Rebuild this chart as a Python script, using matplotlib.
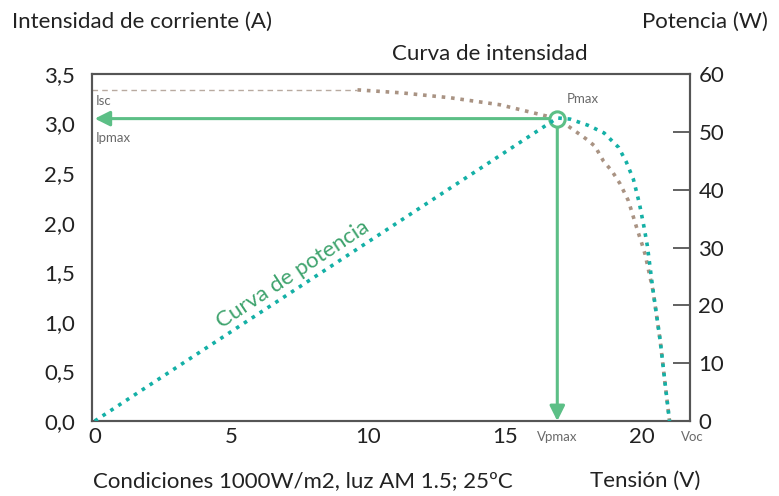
import matplotlib
matplotlib.use('Agg')
import matplotlib.pyplot as plt

# ── Data ──────────────────────────────────────────────────────────────────────
# current curve (V, A)
v_curr = [9.6, 11.2, 13.0, 14.8, 16.0, 16.9, 17.37, 17.98, 18.28, 18.59,
          18.9, 19.2, 19.5, 19.8, 20.0, 20.11, 20.4, 20.66, 20.84, 21.0]
i_curr = [3.34, 3.31, 3.26, 3.19, 3.11, 3.05, 2.96, 2.84, 2.77, 2.62,
          2.52, 2.39, 2.22, 1.95, 1.78, 1.68, 1.31, 0.81, 0.37, 0.0]

# power curve (V, W)
v_pow = [0.0, 16.9, 17.37, 18.04, 18.61, 19.14, 19.42, 19.68, 19.9, 20.07,
         20.19, 20.4, 20.66, 20.84, 21.0]
p_pow = [0.0, 52.4, 52.2, 51.1, 49.8, 47.3, 44.8, 41.8, 37.6, 33.5,
         30.3, 22.5, 13.9, 6.4, 0.0]

isc = 3.34
v_pmax = 16.9
i_pmax = 3.05
v_oc = 21.0

i_ticks = [0.0, 0.5, 1.0, 1.5, 2.0, 2.5, 3.0, 3.5]
p_ticks = [0, 10, 20, 30, 40, 50, 60]
v_ticks = [0, 5, 10, 15, 20]

# ── Style ─────────────────────────────────────────────────────────────────────
plt.rcParams['font.family'] = ['Lato', 'DejaVu Sans']
BROWN = '#a99383'
TEAL = '#14b0a6'
GREEN = '#5cbf86'
TXT = '#222222'
SMALL = '#6a6a6a'
SPINE = '#555555'
FS = 16
FS_SMALL = 9.5

fig = plt.figure(figsize=(7.79, 4.96), dpi=100)
ax = fig.add_axes([0.1181, 0.1512, 0.7677, 0.6996])
ax2 = ax.twinx()

ax.set_xlim(-0.1, 21.75)
ax.set_ylim(0, 3.5)
ax2.set_ylim(0, 60)

# Isc reference line and current curve
ax.plot([-0.1, v_curr[0]], [isc, isc], color='#b8aaa0', lw=1.0,
        linestyle=(0, (4, 3)), zorder=2)
ax.plot(v_curr, i_curr, color=BROWN, lw=2.6, linestyle=(0, (1, 1.6)),
        zorder=3)

# power curve
ax2.plot(v_pow, p_pow, color=TEAL, lw=2.6, linestyle=(0, (1, 1.6)),
         zorder=3)

# arrows from Pmax
arrow = dict(arrowstyle='-|>,head_length=0.9,head_width=0.45',
             color=GREEN, lw=2.2, shrinkA=0, shrinkB=0)
ax.annotate('', xy=(0.0, i_pmax), xytext=(v_pmax, i_pmax),
            arrowprops=arrow, zorder=4)
ax.annotate('', xy=(v_pmax, 0.0), xytext=(v_pmax, i_pmax),
            arrowprops=arrow, zorder=4)
ax.plot([v_pmax], [i_pmax], 'o', ms=11, mfc='white', mec=GREEN, mew=2.2,
        zorder=6)

# small labels
ax.text(0.05, isc - 0.05, 'Isc', fontsize=FS_SMALL, color=SMALL, va='top')
ax.text(0.05, i_pmax - 0.13, 'Ipmax', fontsize=FS_SMALL, color=SMALL,
        va='top')
ax.text(v_pmax + 0.35, i_pmax + 0.14, 'Pmax', fontsize=FS_SMALL,
        color=SMALL, va='bottom')
ax.text(v_pmax, -0.1, 'Vpmax', fontsize=FS_SMALL, color=SMALL, ha='center',
        va='top')
ax.text(v_oc + 0.4, -0.1, 'Voc', fontsize=FS_SMALL, color=SMALL, ha='left',
        va='top')

ax.text(7.25, 1.48, 'Curva de potencia', fontsize=16, color='#3ea36d',
        rotation=33.5, rotation_mode='anchor', ha='center', va='center')

# ticks
ax.set_xticks(v_ticks)
ax.set_xticklabels([str(v) for v in v_ticks])
ax.set_yticks(i_ticks)
ax.set_yticklabels(['{:.1f}'.format(v).replace('.', ',') for v in i_ticks])
ax2.set_yticks(p_ticks)
ax2.set_yticklabels([str(p) for p in p_ticks])

ax.tick_params(axis='both', length=0, labelsize=FS, colors=TXT)
ax.tick_params(axis='y', pad=12)
ax.tick_params(axis='x', pad=4)
ax2.tick_params(axis='y', direction='in', length=12, width=1.3,
                color=SPINE, labelsize=FS, labelcolor=TXT, pad=6)

for a in (ax, ax2):
    for s in a.spines.values():
        s.set_color(SPINE)
        s.set_linewidth(1.5)

# titles / axis captions
fig.text(12 / 779, 1 - 22 / 496, 'Intensidad de corriente (A)', fontsize=FS,
         color=TXT, ha='left', va='center')
fig.text(768 / 779, 1 - 22 / 496, 'Potencia (W)', fontsize=FS,
         color=TXT, ha='right', va='center')
fig.text(490 / 779, 1 - 54 / 496, 'Curva de intensidad', fontsize=FS,
         color=TXT, ha='center', va='center')
fig.text(93 / 779, 1 - 481 / 496, 'Condiciones 1000W/m2, luz AM 1.5; 25ºC',
         fontsize=FS, color=TXT, ha='left', va='center')
fig.text(700 / 779, 1 - 481 / 496, 'Tensión (V)', fontsize=FS,
         color=TXT, ha='right', va='center')

fig.savefig('out.png', dpi=100)
